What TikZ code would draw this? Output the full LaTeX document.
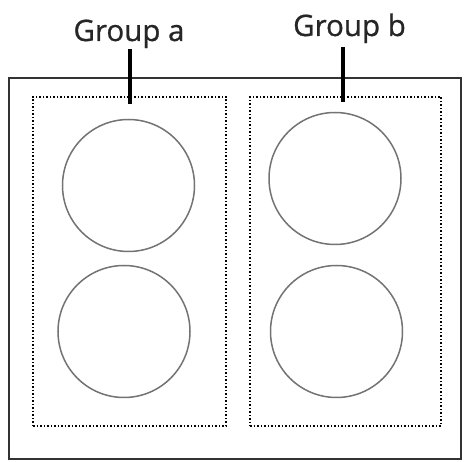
\documentclass[tikz,border=0pt]{standalone}
\usepackage{fontspec}
\setmainfont[FakeBold=0.9]{Open Sans}
\begin{document}
\begin{tikzpicture}[x=1pt,y=-1pt,
  outerbox/.style={draw=black!80,line width=1.6pt},
  groupbox/.style={draw=black,line width=1.5pt,dash pattern=on 1.5pt off 2pt},
  ball/.style={draw=black!55,line width=1.5pt,circle,inner sep=0pt,minimum size=132pt},
  tick/.style={draw=black,line width=4.5pt},
  lbl/.style={font=\fontsize{29.5}{34}\selectfont,text=black!85,inner sep=0pt,anchor=base}]
\useasboundingbox (0,0) rectangle (467,462);
\draw[outerbox] (9,78) rectangle (461,459);
\node[groupbox,draw,minimum width=193pt,minimum height=329pt,inner sep=0pt] (ga) at (129.5,261.5) {};
\node[groupbox,draw,minimum width=191pt,minimum height=329pt,inner sep=0pt] (gb) at (345.5,261.5) {};
\node[ball] (a1) at (128.5,185.5) {};
\node[ball] (a2) at (124,331.5) {};
\node[ball] (b1) at (335,178.5) {};
\node[ball] (b2) at (336.5,331.5) {};
\node[lbl] (la) at (129,41) {Group a};
\node[lbl] (lb) at (349.5,36) {Group b};
\coordinate (ta) at (130,104);
\coordinate (tb) at (343,102);
\draw[tick] (130,49) -- (ta);
\draw[tick] (343,47) -- (tb);
\end{tikzpicture}
\end{document}
